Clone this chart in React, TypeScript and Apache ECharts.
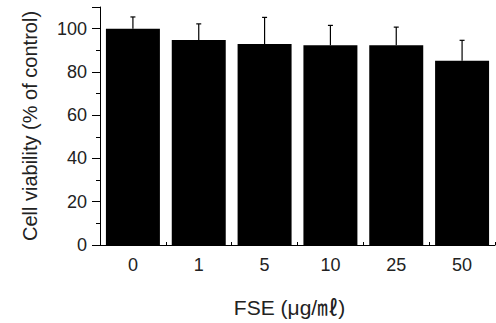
import React, { useEffect, useRef } from "react";
import * as echarts from "echarts";

const categories = ["0", "1", "5", "10", "25", "50"];
const means = [100, 94.8, 92.9, 92.3, 92.3, 85.1];
const errors = [5.4, 7.4, 12.3, 9.2, 8.4, 9.5];
const yTicks = [0, 20, 40, 60, 80, 100];

const FONT = "'Liberation Sans', Arial, 'Noto Sans CJK KR', sans-serif";

export default function App() {
  const ref = useRef<HTMLDivElement>(null);
  useEffect(() => {
    if (!ref.current) return;
    const chart = echarts.init(ref.current, undefined, { renderer: "svg" });
    const errData = means.map((m, i) => [i, m, m + errors[i]]);
    chart.setOption({
      animation: false,
      backgroundColor: "#ffffff",
      grid: { left: 100, top: 7, right: 1, bottom: 77, containLabel: false },
      xAxis: {
        type: "category",
        data: categories,
        name: "FSE (μg/㎖)",
        nameLocation: "middle",
        nameGap: 52,
        nameTextStyle: { fontFamily: FONT, fontSize: 21, color: "#222", padding: [0, 16, 0, 0] },
        axisLine: { lineStyle: { color: "#000", width: 1 } },
        axisTick: { show: true, inside: true, length: 3, alignWithLabel: false, lineStyle: { color: "#000" } },
        axisLabel: { fontFamily: FONT, fontSize: 18, color: "#222", margin: 11 },
      },
      yAxis: {
        type: "value",
        min: 0,
        max: 110,
        interval: 20,
        name: "Cell viability (% of control)",
        nameLocation: "middle",
        nameGap: 60,
        nameTextStyle: { fontFamily: FONT, fontSize: 20, color: "#222" },
        axisLine: { show: true, lineStyle: { color: "#000", width: 1 } },
        axisTick: { show: true, inside: false, length: 8, lineStyle: { color: "#000" } },
        minorTick: { show: true, splitNumber: 2, length: 4, lineStyle: { color: "#000" } },
        splitLine: { show: false },
        axisLabel: {
          fontFamily: FONT,
          fontSize: 18,
          color: "#222",
          margin: 13,
          showMaxLabel: false,
          formatter: (v: number) => (yTicks.includes(v) ? String(v) : ""),
        },
      },
      series: [
        {
          type: "bar",
          data: means,
          barCategoryGap: "18%",
          itemStyle: { color: "#000" },
        },
        {
          type: "custom",
          data: errData,
          z: 10,
          renderItem: (params: any, api: any) => {
            const i = api.value(0);
            const low = api.coord([i, api.value(1)]);
            const high = api.coord([i, api.value(2)]);
            const cap = 2.5;
            const style = { stroke: "#000", lineWidth: 1.2 };
            return {
              type: "group",
              children: [
                { type: "line", shape: { x1: low[0], y1: low[1], x2: high[0], y2: high[1] }, style },
                { type: "line", shape: { x1: high[0] - cap, y1: high[1], x2: high[0] + cap, y2: high[1] }, style },
              ],
            };
          },
        },
      ],
    });
    return () => chart.dispose();
  }, []);
  return <div ref={ref} style={{ width: 496, height: 323, position: "absolute", left: 0, top: 0 }} />;
}
